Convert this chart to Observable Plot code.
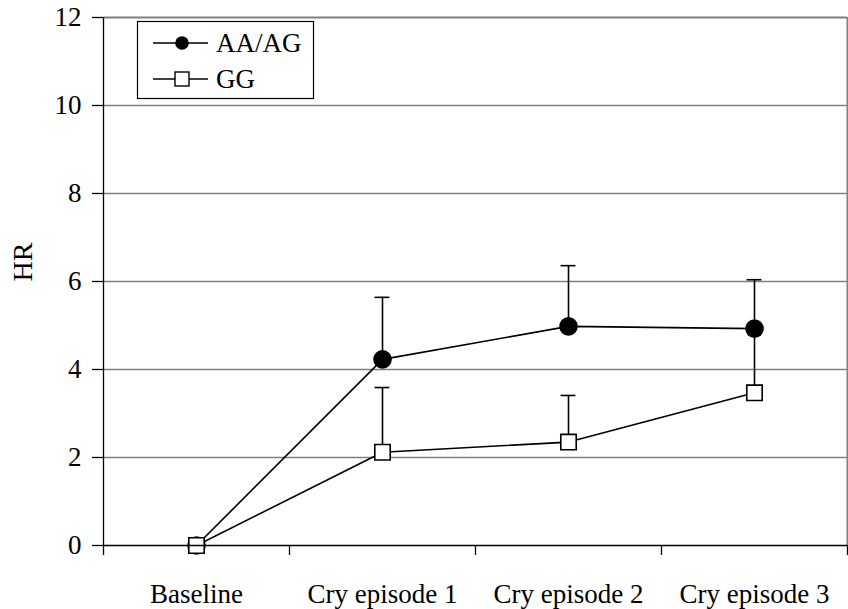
<!DOCTYPE html>
<html><head><meta charset="utf-8">
<script src="https://cdn.jsdelivr.net/npm/d3@7"></script>
<script src="https://cdn.jsdelivr.net/npm/@observablehq/plot@0.6"></script>
<style>
body{margin:0;background:#fff;}
#wrap{position:relative;width:848px;height:609px;font-family:"Liberation Serif","Times New Roman",serif;}
#legend{position:absolute;left:0;top:0;pointer-events:none;}
</style>
</head><body><div id="wrap"></div>
<script>
const categories = ["Baseline", "Cry episode 1", "Cry episode 2", "Cry episode 3"];
const seriesNames = ["AA/AG", "GG"];
const aaMean  = [0, 4.23, 4.98, 4.93];
const aaUpper = [null, 5.64, 6.36, 6.04];
const ggMean  = [0, 2.12, 2.35, 3.47];
const ggUpper = [null, 3.59, 3.41, 4.9];
const yTicks = [0, 2, 4, 6, 8, 10, 12];
const yLabel = "HR";

const rows = [];
categories.forEach((c, i) => {
  rows.push({series: seriesNames[0], cat: c, x: i + 0.5, y: aaMean[i], up: aaUpper[i]});
  rows.push({series: seriesNames[1], cat: c, x: i + 0.5, y: ggMean[i], up: ggUpper[i]});
});
const errRows = rows.filter(d => d.up != null);
const aaRows = rows.filter(d => d.series === seriesNames[0]);
const ggRows = rows.filter(d => d.series === seriesNames[1]);
const edges = d3.range(categories.length + 1);
const centers = categories.map((c, i) => i + 0.5);

const chart = Plot.plot({
  width: 848, height: 609,
  marginLeft: 103, marginRight: 1, marginTop: 17, marginBottom: 64,
  style: {fontFamily: "Liberation Serif, Times New Roman, serif", color: "#000", background: "#fff"},
  x: {type: "linear", domain: [0, categories.length]},
  y: {domain: [0, 12]},
  marks: [
    Plot.ruleY(yTicks.filter(t => t > 0 && t < 12), {stroke: "#808080", strokeWidth: 1.3}),
    Plot.ruleY([12], {stroke: "#808080", strokeWidth: 2}),
    Plot.ruleX([categories.length], {stroke: "#808080", strokeWidth: 2}),
    Plot.ruleX(errRows, {x: "x", y1: "y", y2: "up", stroke: "#000", strokeWidth: 1.6}),
    Plot.ruleY(errRows, {y: "up", x1: d => d.x - 0.04, x2: d => d.x + 0.04, stroke: "#000", strokeWidth: 1.6}),
    Plot.line(rows, {x: "x", y: "y", z: "series", stroke: "#000", strokeWidth: 1.6}),
    Plot.dot(aaRows, {x: "x", y: "y", r: 9.3, fill: "#000", stroke: "none"}),
    Plot.dot(ggRows, {x: "x", y: "y", r: 8.7, symbol: "square", fill: "#fff", stroke: "#000", strokeWidth: 1.6}),
    Plot.ruleX([0], {stroke: "#000", strokeWidth: 1.3}),
    Plot.ruleY([0], {stroke: "#000", strokeWidth: 1.3}),
    Plot.axisY({ticks: yTicks, tickSize: 11, tickPadding: 11, fontSize: 27, label: null, stroke: "#000", strokeWidth: 1.3,
      fontFamily: "Liberation Serif"}),
    Plot.axisX({ticks: edges, tickSize: 10, tickFormat: () => "", label: null, stroke: "#000", strokeWidth: 1.3}),
    Plot.axisX({ticks: centers, tickSize: 0, tickPadding: 38, fontSize: 27, label: null,
      fontFamily: "Liberation Serif", tickFormat: d => categories[Math.floor(d)]}),
    Plot.text([yLabel], {frameAnchor: "left", dx: -80, rotate: -90, fontSize: 28, fill: "black",
      fontFamily: "Liberation Serif"})
  ]
});
const wrap = document.getElementById("wrap");
wrap.appendChild(chart);

// in-plot legend
const ns = "http://www.w3.org/2000/svg";
const lg = document.createElementNS(ns, "svg");
lg.setAttribute("id", "legend");
lg.setAttribute("width", 848); lg.setAttribute("height", 609);
lg.innerHTML = `
  <rect x="137.5" y="21.5" width="176" height="77" fill="#fff" stroke="#000" stroke-width="1.2"/>
  <line x1="153" x2="208" y1="43" y2="43" stroke="#000" stroke-width="1.6"/>
  <circle cx="182" cy="43" r="6.8" fill="#000"/>
  <text x="216" y="52" font-size="27" font-family="Liberation Serif, Times New Roman, serif">${seriesNames[0]}</text>
  <line x1="153" x2="208" y1="79" y2="79" stroke="#000" stroke-width="1.6"/>
  <rect x="175" y="72" width="14" height="14" fill="#fff" stroke="#000" stroke-width="1.4"/>
  <text x="216" y="88" font-size="27" font-family="Liberation Serif, Times New Roman, serif">${seriesNames[1]}</text>
`;
wrap.appendChild(lg);
</script>
</body></html>
